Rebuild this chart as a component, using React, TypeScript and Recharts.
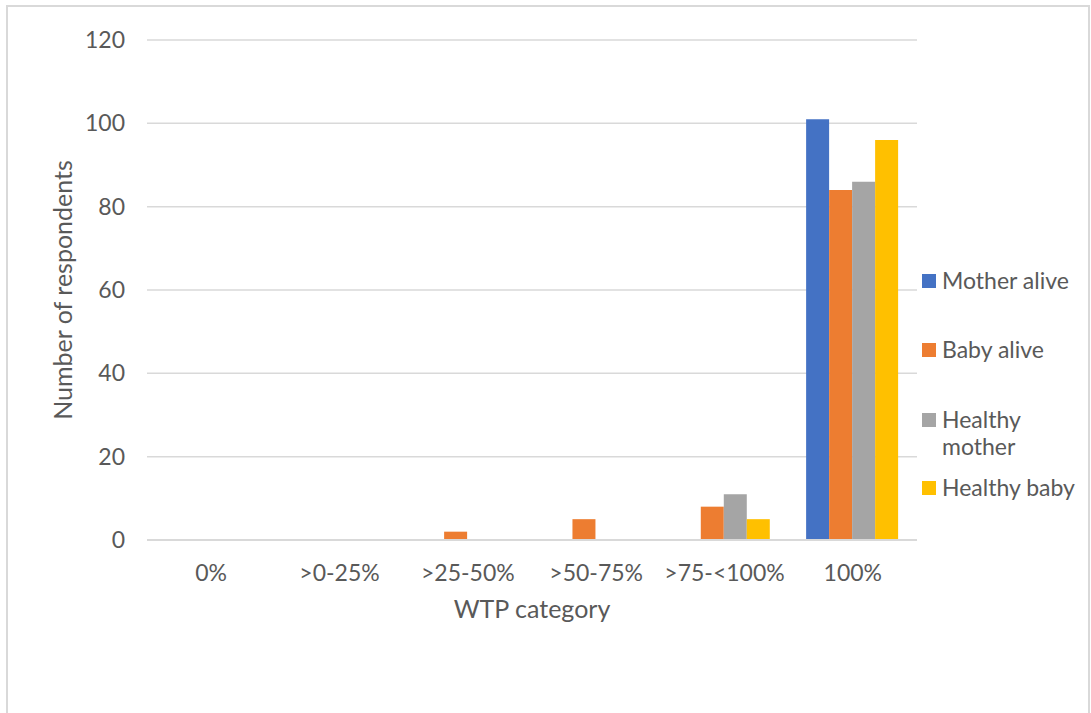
import React from 'react';
import {
  BarChart, Bar, XAxis, YAxis, CartesianGrid, Legend,
} from 'recharts';

const categories = ['0%', '>0-25%', '>25-50%', '>50-75%', '>75-<100%', '100%'];
const motherAlive = [0, 0, 0, 0, 0, 101];
const babyAlive = [0, 0, 2, 5, 8, 84];
const healthyMother = [0, 0, 0, 0, 11, 86];
const healthyBaby = [0, 0, 0, 0, 5, 96];
const yTicks = [0, 20, 40, 60, 80, 100, 120];

const series = [
  { key: 'motherAlive', name: 'Mother alive', color: '#4472C4' },
  { key: 'babyAlive', name: 'Baby alive', color: '#ED7D31' },
  { key: 'healthyMother', name: 'Healthy mother', color: '#A5A5A5' },
  { key: 'healthyBaby', name: 'Healthy baby', color: '#FFC000' },
];

const data = categories.map((category, i) => ({
  category,
  motherAlive: motherAlive[i],
  babyAlive: babyAlive[i],
  healthyMother: healthyMother[i],
  healthyBaby: healthyBaby[i],
}));

const FONT = 'Lato, "Open Sans", sans-serif';
const TEXT = '#595959';
const GRID = '#d9d9d9';

// spacing above each legend entry
const legendGaps = [0, 42, 43, 14];

const SideLegend = () => (
  <div style={ { fontFamily: FONT, fontSize: 23, lineHeight: '27px', color: TEXT } }>
    { series.map((s, i) => (
      <div key={ s.key } style={ { display: 'flex', marginTop: legendGaps[i] } }>
        <span
          style={ {
            width: 14, height: 14, background: s.color,
            marginTop: 7, marginRight: 6, flex: 'none',
          } }
        />
        <span style={ { width: 142 } }>{ s.name }</span>
      </div>
    )) }
  </div>
);

const App = () => (
  <div
    style={ {
      position: 'absolute', left: 0, top: 0, width: 1091, height: 713,
      overflow: 'hidden', background: '#fff',
    } }
  >
    <div
      style={ {
        position: 'absolute', left: 6, top: 5, width: 1084, height: 740,
        border: `2px solid ${GRID}`, boxSizing: 'border-box',
      } }
    />
    <div style={ { position: 'absolute', left: 0, top: 0 } }>
      <BarChart
        width={ 1091 }
        height={ 713 }
        data={ data }
        margin={ { top: 40, right: 174, bottom: 73, left: 0 } }
        barCategoryGap="13.6%"
        barGap={ 0 }
      >
        <CartesianGrid vertical={ false } stroke={ GRID } strokeWidth={ 1.5 } />
        <XAxis
          dataKey="category"
          height={ 100 }
          tickLine={ false }
          tickSize={ 0 }
          tickMargin={ 25 }
          axisLine={ { stroke: GRID, strokeWidth: 2 } }
          tick={ { fill: TEXT, fontSize: 23, fontFamily: FONT } }
          label={ {
            value: 'WTP category', position: 'insideTop', offset: 60,
            fill: TEXT, fontSize: 25, fontFamily: FONT,
          } }
        />
        <YAxis
          width={ 147 }
          domain={ [0, 120] }
          ticks={ yTicks }
          axisLine={ false }
          tickLine={ false }
          tickSize={ 0 }
          tickMargin={ 22 }
          tick={ { fill: TEXT, fontSize: 23, fontFamily: FONT } }
          label={ {
            value: 'Number of respondents', angle: -90, position: 'insideLeft', offset: 63,
            fill: TEXT, fontSize: 25, fontFamily: FONT, style: { textAnchor: 'middle' },
          } }
        />
        <Legend
          layout="vertical"
          align="center"
          verticalAlign="middle"
          content={ <SideLegend /> }
          wrapperStyle={ { left: 922, top: 267, width: 165 } }
        />
        { series.map((s) => (
          <Bar
            key={ s.key }
            dataKey={ s.key }
            name={ s.name }
            fill={ s.color }
            isAnimationActive={ false }
          />
        )) }
      </BarChart>
    </div>
  </div>
);

export default App;
